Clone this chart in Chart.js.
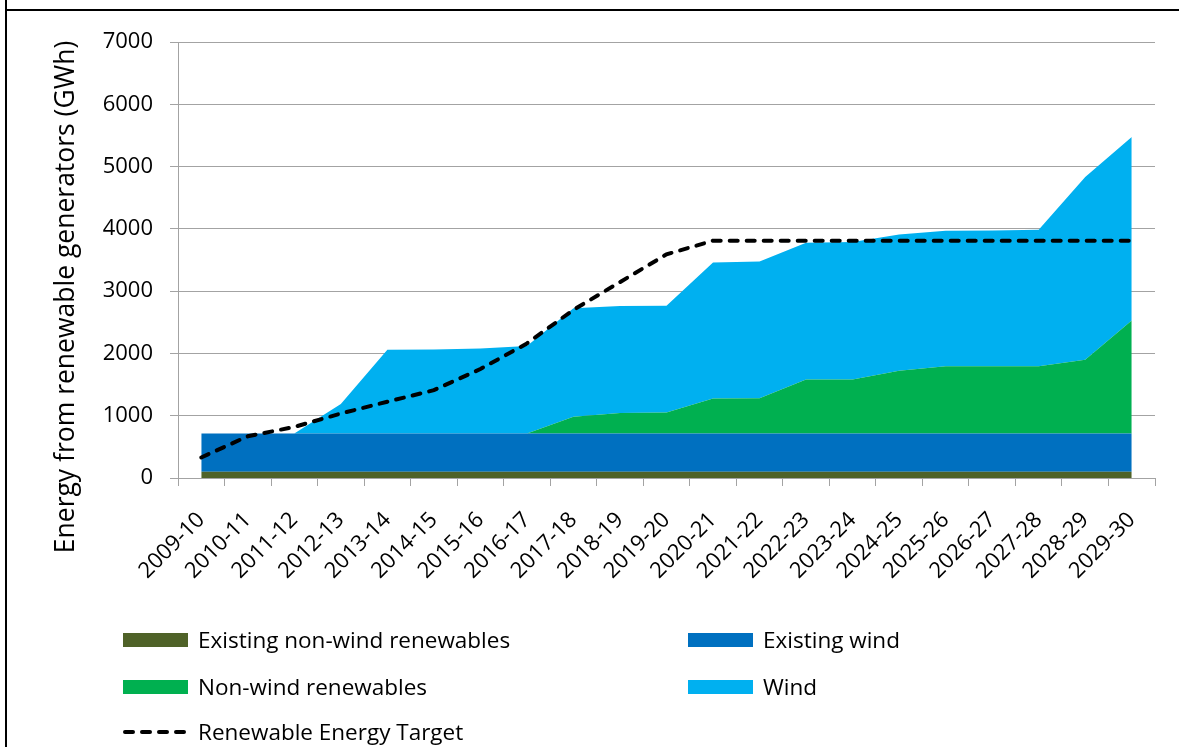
<!DOCTYPE html>
<html>
<head>
<meta charset="utf-8">
<script src="https://cdn.jsdelivr.net/npm/chart.js@4.4.1/dist/chart.umd.min.js"></script>
<style>
  html, body { margin: 0; padding: 0; background: #ffffff; }
  canvas { display: block; }
</style>
</head>
<body>
<canvas id="chart" width="1179" height="747"></canvas>
<script>
// ---------- DATA ----------
const categories = ['2009-10','2010-11','2011-12','2012-13','2013-14','2014-15','2015-16','2016-17','2017-18','2018-19','2019-20','2020-21','2021-22','2022-23','2023-24','2024-25','2025-26','2026-27','2027-28','2028-29','2029-30'];
const existingNonWind = [100,100,100,100,100,100,100,100,100,100,100,100,100,100,100,100,100,100,100,100,100];
const existingWind    = [615,615,615,615,615,615,615,615,615,615,615,615,615,615,615,615,615,615,615,615,615];
const nonWindRenewables = [0,0,0,0,0,0,0,0,270,330,335,560,565,865,865,1005,1080,1080,1080,1185,1815];
const wind            = [0,0,0,475,1345,1350,1365,1405,1740,1715,1715,2185,2195,2195,2210,2190,2175,2180,2190,2932,2943];
const renewableTarget = [330,670,820,1035,1225,1410,1750,2160,2700,3145,3590,3810,3810,3810,3810,3810,3810,3810,3810,3810,3810];
const yTickValues = [0,1000,2000,3000,4000,5000,6000,7000];
const yAxisTitle = 'Energy from renewable generators (GWh)';
const seriesNames = ['Existing non-wind renewables','Existing wind','Non-wind renewables','Wind','Renewable Energy Target'];
const seriesColors = ['#4F6228','#0070C0','#00B050','#00B0F0','#000000'];

// ---------- CHART ----------
const FONT = '"Open Sans", "DejaVu Sans", sans-serif';
const GRID = '#a3a3a3';

const decor = {
  id: 'decor',
  afterDraw(chart) {
    const c = chart.ctx;
    c.save();
    // frame lines
    c.fillStyle = '#000';
    c.fillRect(5, 0, 2, chart.height);
    c.fillRect(5, 9, chart.width - 5, 2);
    // y axis title
    c.save();
    c.font = '26.5px ' + FONT;
    c.fillStyle = '#000';
    c.textAlign = 'center';
    c.textBaseline = 'alphabetic';
    c.translate(74, 297);
    c.rotate(-Math.PI / 2);
    c.fillText(yAxisTitle, 0, 0);
    c.restore();
    // legend
    const items = [
      { i: 0, x: 123, y: 633 }, { i: 1, x: 688, y: 633 },
      { i: 2, x: 123, y: 680 }, { i: 3, x: 688, y: 680 },
      { i: 4, x: 123, y: 725 }
    ];
    c.font = '22.5px ' + FONT;
    c.textAlign = 'left';
    c.textBaseline = 'alphabetic';
    items.forEach(it => {
      if (it.i < 4) {
        c.fillStyle = seriesColors[it.i];
        c.fillRect(it.x, it.y, 65, 14);
      } else {
        c.save();
        c.strokeStyle = '#000';
        c.lineWidth = 4;
        c.lineCap = 'round';
        c.setLineDash([8, 9]);
        c.beginPath();
        c.moveTo(it.x + 2, it.y + 7);
        c.lineTo(it.x + 67, it.y + 7);
        c.stroke();
        c.restore();
      }
      c.fillStyle = '#000';
      c.fillText(seriesNames[it.i], it.x + 75, it.y + 15);
    });
    c.restore();
  }
};

const areaBase = { pointRadius: 0, borderWidth: 0, borderColor: 'rgba(0,0,0,0)', stack: 'gen', tension: 0 };

new Chart(document.getElementById('chart'), {
  type: 'line',
  data: {
    labels: categories,
    datasets: [
      Object.assign({ label: seriesNames[0], data: existingNonWind, backgroundColor: seriesColors[0], fill: 'origin' }, areaBase),
      Object.assign({ label: seriesNames[1], data: existingWind, backgroundColor: seriesColors[1], fill: '-1' }, areaBase),
      Object.assign({ label: seriesNames[2], data: nonWindRenewables, backgroundColor: seriesColors[2], fill: '-1' }, areaBase),
      Object.assign({ label: seriesNames[3], data: wind, backgroundColor: seriesColors[3], fill: '-1' }, areaBase),
      { label: seriesNames[4], data: renewableTarget, borderColor: seriesColors[4], borderWidth: 4,
        borderDash: [8, 9], borderCapStyle: 'round', pointRadius: 0, fill: false, stack: 'target', order: -1, tension: 0 }
    ]
  },
  options: {
    responsive: false,
    animation: false,
    devicePixelRatio: 1,
    layout: { padding: { top: 42, right: 24, left: 0, bottom: 0 } },
    plugins: { legend: { display: false }, tooltip: { enabled: false } },
    scales: {
      x: {
        offset: true,
        grid: { offset: true, drawOnChartArea: false, drawTicks: true, tickLength: 8, color: GRID },
        border: { color: GRID, width: 1 },
        ticks: { autoSkip: false, minRotation: 45, maxRotation: 45, color: '#000', padding: 21, font: { family: FONT, size: 22 } },
        afterFit: s => { s.height = 269; }
      },
      y: {
        stacked: true,
        min: 0, max: 7000,
        afterBuildTicks: s => { s.ticks = yTickValues.map(v => ({ value: v })); },
        grid: { color: GRID, tickLength: 8 },
        border: { color: GRID, width: 1 },
        ticks: { color: '#000', padding: 17, font: { family: FONT, size: 22 }, callback: v => String(v) },
        afterFit: s => { s.width = 178; }
      }
    }
  },
  plugins: [decor]
});
</script>
</body>
</html>
